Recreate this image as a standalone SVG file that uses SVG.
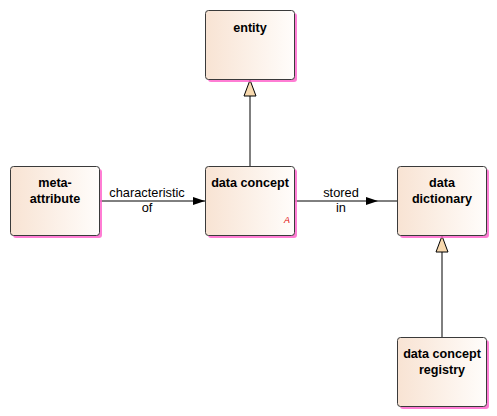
<svg xmlns="http://www.w3.org/2000/svg" width="497" height="416" viewBox="0 0 497 416">
<style>
.box{fill:url(#g);stroke:#3a3a3a;stroke-width:1}
.sh{fill:#ff66cc;opacity:0.85}
.t{font-family:"Liberation Sans",Arial,sans-serif;font-size:12.6px;font-weight:bold;fill:#000;text-anchor:middle}
.l{font-family:"Liberation Sans",Arial,sans-serif;font-size:12.8px;fill:#000;text-anchor:middle}
.c{stroke:#000;stroke-width:1;fill:none}
</style>
<defs>
<linearGradient id="g" x1="0" y1="0" x2="1" y2="0">
<stop offset="0" stop-color="#f8e3d3"/>
<stop offset="1" stop-color="#fffdfb"/>
</linearGradient>
<marker id="arr" markerWidth="12" markerHeight="8" refX="12" refY="4" orient="auto" markerUnits="userSpaceOnUse">
<path d="M0,0 L12,4 L0,8 Z" fill="#000"/>
</marker>
</defs>
<rect width="497" height="416" fill="#fff"/>
<g id="connectors">
<line class="c" x1="250" y1="96" x2="250" y2="166"/>
<path d="M250,80 L256,96 L244,96 Z" fill="#f8d9ae" stroke="#000"/>
<line class="c" x1="442" y1="252" x2="442" y2="337"/>
<path d="M442,236 L448,252 L436,252 Z" fill="#f8d9ae" stroke="#000"/>
<line class="c" x1="99" y1="201" x2="205" y2="201" marker-end="url(#arr)"/>
<rect x="140" y="202" width="13" height="13" fill="#fff"/>
<text class="l" x="147" y="197">characteristic</text>
<text class="l" x="147" y="212">of</text>
<line class="c" x1="294" y1="201" x2="397" y2="201"/>
<path d="M366,197 L378,201 L366,205 Z" fill="#000"/>
<text class="l" x="341" y="197">stored</text>
<text class="l" x="341" y="212">in</text>
</g>
<g id="entity">
<rect class="sh" x="208" y="13" width="89" height="69" rx="3"/>
<rect class="box" x="205.5" y="10.5" width="89" height="69" rx="3"/>
<text class="t" x="250" y="31.5">entity</text>
</g>
<g id="data-concept">
<rect class="sh" x="208" y="169" width="89" height="69" rx="3"/>
<rect class="box" x="205.5" y="166.5" width="89" height="69" rx="3"/>
<text class="t" x="250" y="187">data concept</text>
<text x="287" y="223" font-family="'Liberation Sans',Arial,sans-serif" font-size="9" font-style="italic" fill="#e00000" text-anchor="middle">A</text>
</g>
<g id="meta-attribute">
<rect class="sh" x="13" y="169" width="89" height="69" rx="3"/>
<rect class="box" x="10.5" y="166.5" width="89" height="69" rx="3"/>
<text class="t" x="55" y="187">meta-</text>
<text class="t" x="55" y="203">attribute</text>
</g>
<g id="data-dictionary">
<rect class="sh" x="400" y="169" width="89" height="69" rx="3"/>
<rect class="box" x="397.5" y="166.5" width="89" height="69" rx="3"/>
<text class="t" x="442" y="187">data</text>
<text class="t" x="442" y="203">dictionary</text>
</g>
<g id="data-concept-registry">
<rect class="sh" x="400" y="340" width="89" height="69" rx="3"/>
<rect class="box" x="397.5" y="337.5" width="89" height="69" rx="3"/>
<text class="t" x="442" y="358">data concept</text>
<text class="t" x="442" y="374">registry</text>
</g>
</svg>
